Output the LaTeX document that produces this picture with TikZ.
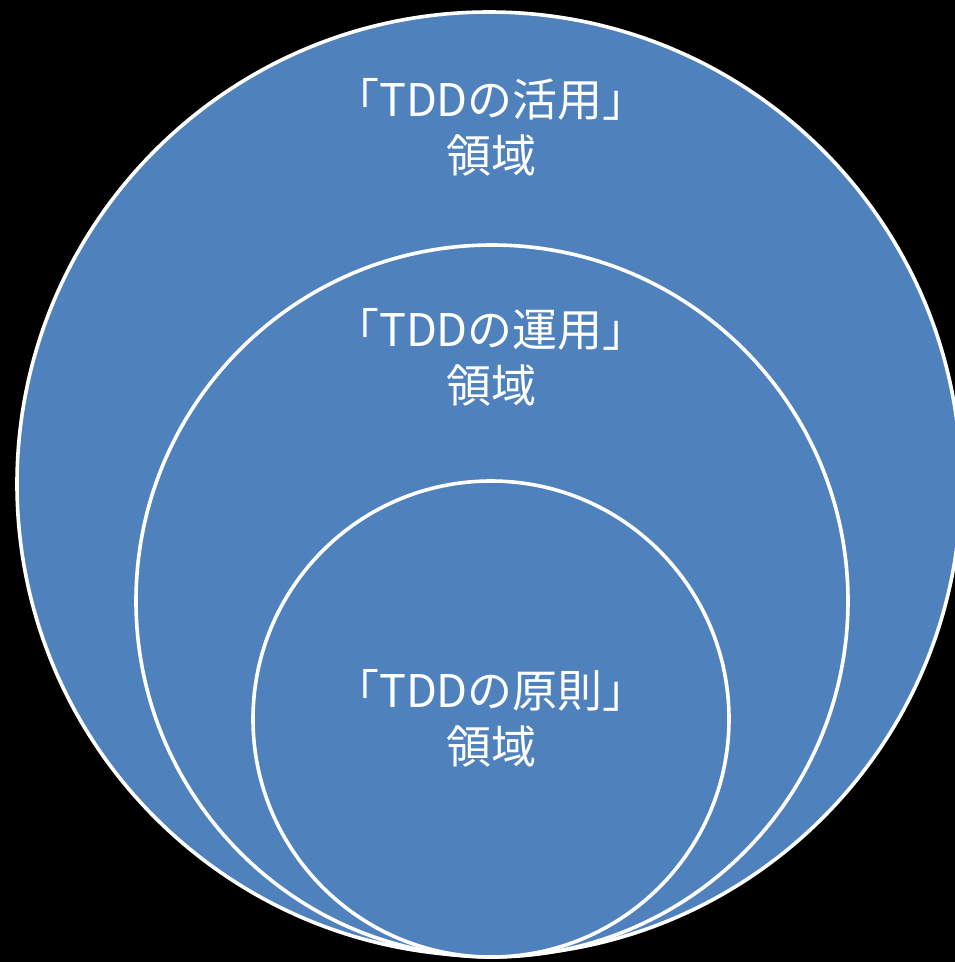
\documentclass[tikz,border=0pt]{standalone}
\usepackage{fontspec}
\newfontfamily\jpfont{Noto Sans CJK JP}
\definecolor{ringblue}{HTML}{4F81BD}
\begin{document}
\begin{tikzpicture}[x=1pt,y=-1pt,
  ring/.style={circle, draw=white, line width=3.6pt, fill=ringblue, inner sep=0pt},
  lbl/.style={text=white, align=center, font=\jpfont\fontsize{45}{56}\selectfont, inner sep=0pt}]
  \fill[black] (0,0) rectangle (955,962);
  \useasboundingbox (0,0) rectangle (955,962);
  \begin{scope}
    \clip (0,0) rectangle (955,962);
    \node[ring, minimum size=944pt] (outer) at (489,484) {};
    \node[ring, minimum size=712pt] (middle) at (492,601) {};
    \node[ring, minimum size=476pt] (inner) at (491,719) {};
  \end{scope}
  \node[lbl] (t1) at (491,127) {「TDDの活用」\\領域};
  \node[lbl] (t2) at (491,357) {「TDDの運用」\\領域};
  \node[lbl] (t3) at (491,718) {「TDDの原則」\\領域};
\end{tikzpicture}
\end{document}
